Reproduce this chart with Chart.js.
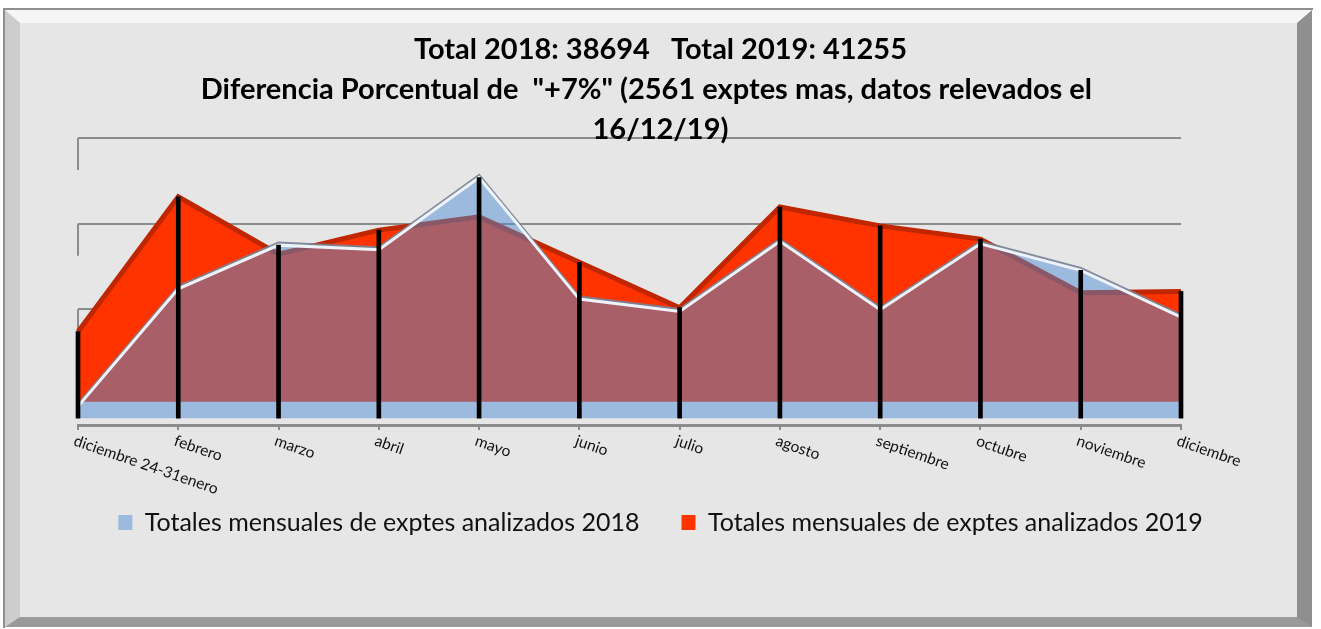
<!DOCTYPE html>
<html lang="es">
<head>
<meta charset="utf-8">
<title>Totales mensuales de exptes analizados</title>
<script src="https://cdn.jsdelivr.net/npm/chart.js@4.4.1/dist/chart.umd.min.js"></script>
<style>
  html, body { margin: 0; padding: 0; background: #fff; }
  body { width: 1321px; height: 629px; position: relative; overflow: hidden; }
  .marco {
    position: absolute; left: 3px; top: 8px; width: 1310px; height: 620px;
    box-sizing: border-box; border-top: 2px solid #8f8f8f; border-left: 2px solid #8f8f8f;
  }
  .bisel {
    width: 1307px; height: 617px; box-sizing: border-box;
    border-style: solid; border-width: 13px 15px 10px 15px;
    border-color: #f6f6f6 #8f8f8f #9a9a9a #cdcdcd;
    background: #e6e6e6;
  }
  #grafico { position: absolute; left: 0; top: 0; }
</style>
</head>
<body>
<div class="marco"><div class="bisel"></div></div>
<canvas id="grafico" width="1321" height="629"></canvas>

<script>
// === DATOS ===
const meses = ["diciembre 24-31enero", "febrero", "marzo", "abril", "mayo", "junio",
               "julio", "agosto", "septiembre", "octubre", "noviembre", "diciembre"];

const totales2018 = [275, 3020, 4040, 3930, 5620, 2780, 2490, 4130, 2530, 4070, 3450, 2360];
const totales2019 = [1640, 4790, 3450, 4010, 4320, 3260, 2200, 4550, 4110, 3800, 2550, 2580];

// lineas de la pared del fondo
const lineasGrilla = [2000, 4000, 6000];

// la segunda linea termina con espacios (asi queda corrida como en Excel)
const titulo = [
    "Total 2018: 38694   Total 2019: 41255",
    "Diferencia Porcentual de  \"+7%\" (2561 exptes mas, datos relevados el    ",
    "16/12/19)"
];

// === ESCALAS (simulan la profundidad del grafico 3D de Excel) ===
const RANGO = 6700;
const minFondo = -700;   // pared del fondo
const min2019 = -540;    // serie de atras
const min2018 = -160;    // serie de adelante

// altura de la linea negra en cada mes: la mas alta de las dos series
const desfase = min2018 - min2019;
const lineasVerticales = totales2018.map((v, i) => Math.max(v, totales2019[i] + desfase));

const FUENTE = "Lato, 'Open Sans', sans-serif";

// === PLUGINS ===
// sombra gris arriba del borde blanco de la serie 2018
const sombraBorde = {
    id: "sombraBorde",
    beforeDatasetDraw(chart, args) {
        if (args.index !== 1) return;
        const ctx = chart.ctx;
        ctx.shadowColor = "rgba(120,130,150,0.9)";
        ctx.shadowOffsetY = -2;
        ctx.shadowBlur = 0;
    },
    afterDatasetDraw(chart, args) {
        if (args.index !== 1) return;
        const ctx = chart.ctx;
        ctx.shadowColor = "transparent";
        ctx.shadowOffsetY = 0;
    }
};

// trazos laterales de la grilla (pared izquierda)
const paredLateral = {
    id: "paredLateral",
    beforeDatasetsDraw(chart) {
        const ctx = chart.ctx;
        const escala = chart.scales.yg;
        const x = chart.chartArea.left;
        ctx.save();
        ctx.strokeStyle = "#8c8c8c";
        ctx.lineWidth = 2;
        lineasGrilla.forEach(v => {
            const y = escala.getPixelForValue(v);
            ctx.beginPath();
            ctx.moveTo(x, y);
            ctx.lineTo(x, y + 32);
            ctx.stroke();
        });
        ctx.restore();
    }
};

// etiquetas del eje x inclinadas hacia abajo
const etiquetasX = {
    id: "etiquetasX",
    afterDraw(chart) {
        const ctx = chart.ctx;
        const ejeX = chart.scales.x;
        const y = ejeX.top + 8;
        ctx.save();
        ctx.font = "15.5px " + FUENTE;
        ctx.fillStyle = "#111";
        ctx.textAlign = "left";
        ctx.textBaseline = "top";
        meses.forEach((m, i) => {
            const x = ejeX.getPixelForValue(i);
            ctx.save();
            ctx.translate(x - 1, y);
            ctx.rotate(19 * Math.PI / 180);
            ctx.fillText(m, 0, 0);
            ctx.restore();
        });
        ctx.restore();
    }
};

// === GRAFICO ===
const ctx = document.getElementById("grafico").getContext("2d");
new Chart(ctx, {
    type: "line",
    data: {
        labels: meses,
        datasets: [
            {
                label: "Totales mensuales de exptes analizados 2019",
                data: totales2019,
                yAxisID: "y1",
                backgroundColor: "#ff3300",
                borderColor: "#c02600",
                borderWidth: 5,
                fill: "origin",
                pointRadius: 0,
                tension: 0,
                order: 2
            },
            {
                label: "Totales mensuales de exptes analizados 2018",
                data: totales2018,
                yAxisID: "y",
                backgroundColor: "rgba(78,141,212,0.49)",
                borderColor: "#eef3fa",
                borderWidth: 3,
                fill: "origin",
                pointRadius: 0,
                tension: 0,
                order: 1
            },
            {
                type: "bar",
                label: "lineas",
                data: lineasVerticales,
                yAxisID: "y",
                backgroundColor: "#000",
                barThickness: 4,
                clip: false,
                order: 0
            }
        ]
    },
    options: {
        responsive: false,
        animation: false,
        layout: { padding: { left: 20, right: 20, top: 20, bottom: 84 } },
        plugins: {
            title: {
                display: true,
                text: titulo,
                color: "#000",
                font: { family: FUENTE, size: 29, weight: "bold", lineHeight: 1.38 },
                padding: { top: 10, bottom: -12 }
            },
            legend: {
                position: "bottom",
                labels: {
                    font: { family: FUENTE, size: 25 },
                    color: "#111",
                    boxWidth: 14,
                    boxHeight: 15,
                    padding: 42,
                    filter: item => item.text !== "lineas",
                    generateLabels(chart) {
                        return Chart.defaults.plugins.legend.labels.generateLabels(chart)
                            .map(l => Object.assign(l, { lineWidth: 0 }));
                    }
                }
            },
            tooltip: { enabled: false }
        },
        scales: {
            x: {
                offset: false,
                ticks: { display: false },
                grid: { offset: false, drawOnChartArea: false, drawTicks: true, tickLength: 5, color: "#8c8c8c", lineWidth: 2 },
                border: { display: true, color: "#8c8c8c", width: 3 },
                afterFit(escala) { escala.height = 43; }
            },
            yg: {
                position: "left",
                min: minFondo,
                max: minFondo + RANGO,
                ticks: { display: false },
                border: { display: false },
                grid: { drawTicks: false, color: "#8c8c8c", lineWidth: 2 },
                afterBuildTicks(escala) { escala.ticks = lineasGrilla.map(v => ({ value: v })); },
                afterFit(escala) { escala.width = 58; }
            },
            y: {
                position: "right",
                min: min2018,
                max: min2018 + RANGO,
                ticks: { display: false },
                border: { display: false },
                grid: { display: false },
                afterFit(escala) { escala.width = 120; }
            },
            y1: {
                display: false,
                min: min2019,
                max: min2019 + RANGO
            }
        }
    },
    plugins: [sombraBorde, paredLateral, etiquetasX]
});
</script>
</body>
</html>
